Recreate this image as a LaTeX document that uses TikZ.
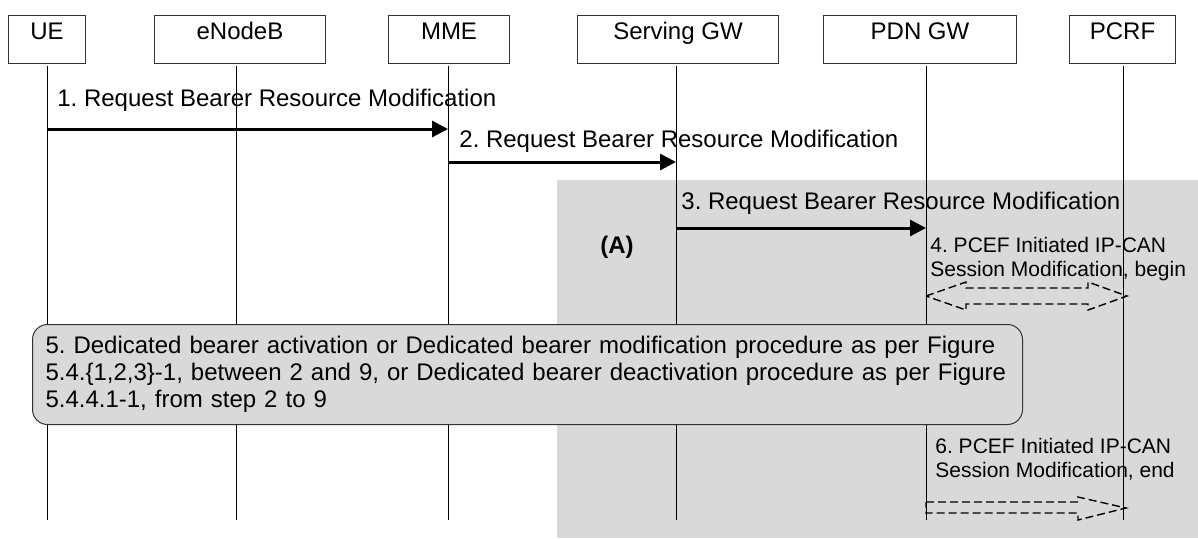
\documentclass[tikz,border=0pt]{standalone}
\usepackage{fontspec}
\setmainfont{Liberation Sans}
\usepackage{tikz}
\usetikzlibrary{positioning,arrows.meta}
\usepackage{xcolor}
\definecolor{areagray}{HTML}{D9D9D9}

\begin{document}
\frenchspacing
\begin{tikzpicture}[x=0.5pt,y=-0.5pt,>={Triangle[length=8pt,width=8pt]},
  font=\fontsize{12}{13.5}\selectfont,
  entity/.style={draw=black!80,line width=0.5pt,inner sep=0pt,text height=12pt,text depth=12pt,anchor=north west},
  life/.style={line width=0.5pt},
  msg/.style={->,line width=1.5pt},
  msglabel/.style={anchor=base west,inner sep=0pt},
  note/.style={anchor=north west,inner sep=0pt,align=left,font=\fontsize{10.5}{12}\selectfont},
  hollow/.style={line width=0.7pt,dash pattern=on 4pt off 2pt},
  procbox/.style={draw=black!80,line width=0.5pt,fill=areagray,rounded corners=7.5pt,anchor=north west,
    minimum width=495pt,minimum height=50pt,inner xsep=6.5pt,text width=482pt,align=left}]
\useasboundingbox (0,0) rectangle (1198,538);
\fill[areagray] (557,180) rectangle (1198,538);

% entities
\node[entity,minimum width=38.5pt] (ue) at (8,15) {UE};
\node[entity,minimum width=85.5pt] (enb) at (154,15) {eNodeB};
\node[entity,minimum width=60.5pt] (mme) at (388,15) {MME};
\node[entity,minimum width=100.5pt] (sgw) at (577,15) {Serving GW};
\node[entity,minimum width=96.5pt] (pgw) at (823,15) {PDN GW};
\node[entity,minimum width=53pt] (pcrf) at (1069,15) {PCRF};

% lifelines
\foreach \n/\x in {ue/47,enb/236,mme/448,sgw/676,pgw/926,pcrf/1123} {
  \coordinate (\n-t) at (\x,66);
  \coordinate (\n-b) at (\x,520);
  \draw[life] (\n-t) -- (\n-b);
}

% message rows
\coordinate (m1) at (0,129);
\coordinate (m2) at (0,162);
\coordinate (m3) at (0,228);
\coordinate (m4) at (0,296);
\coordinate (m6) at (0,502);

\draw[msg] (ue-t |- m1) -- (mme-t |- m1);
\node[msglabel] (t1) at (57,106) {1. Request Bearer Resource Modification};
\draw[msg] (mme-t |- m2) -- (sgw-t |- m2);
\node[msglabel] (t2) at (459,147) {2. Request Bearer Resource Modification};
\draw[msg] (sgw-t |- m3) -- (pgw-t |- m3);
\node[msglabel] (t3) at (681,209) {3. Request Bearer Resource Modification};

\node[anchor=base,inner sep=0pt,font=\fontsize{12}{13.5}\selectfont\bfseries] (areaA) at (617,253) {(A)};

\node[note] (t4) at (930,237) {4. PCEF Initiated IP-CAN\\Session Modification, begin};
\draw[hollow] (pgw-t |- m4) -- ++(40,-14) -- ++(0,6) -- ++(122,0) -- ++(0,-6) -- ++(39,14)
  -- ++(-39,14) -- ++(0,-6) -- ++(-122,0) -- ++(0,6) -- cycle;

\node[procbox] (p5) at (32,324) {5. Dedicated bearer activation or Dedicated bearer modification procedure as per Figure\\
5.4.\{1,2,3\}-1, between 2 and 9, or Dedicated bearer deactivation procedure as per Figure\\
5.4.4.1-1, from step 2 to 9};

\node[note] (t6) at (935,438) {6. PCEF Initiated IP-CAN\\Session Modification, end};
\draw[hollow] (pgw-t |- m6) -- ++(152,0) -- ++(0,-5) -- ++(48,11) -- ++(-48,12) -- ++(0,-7) -- ++(-152,0) -- cycle;
\end{tikzpicture}
\end{document}
